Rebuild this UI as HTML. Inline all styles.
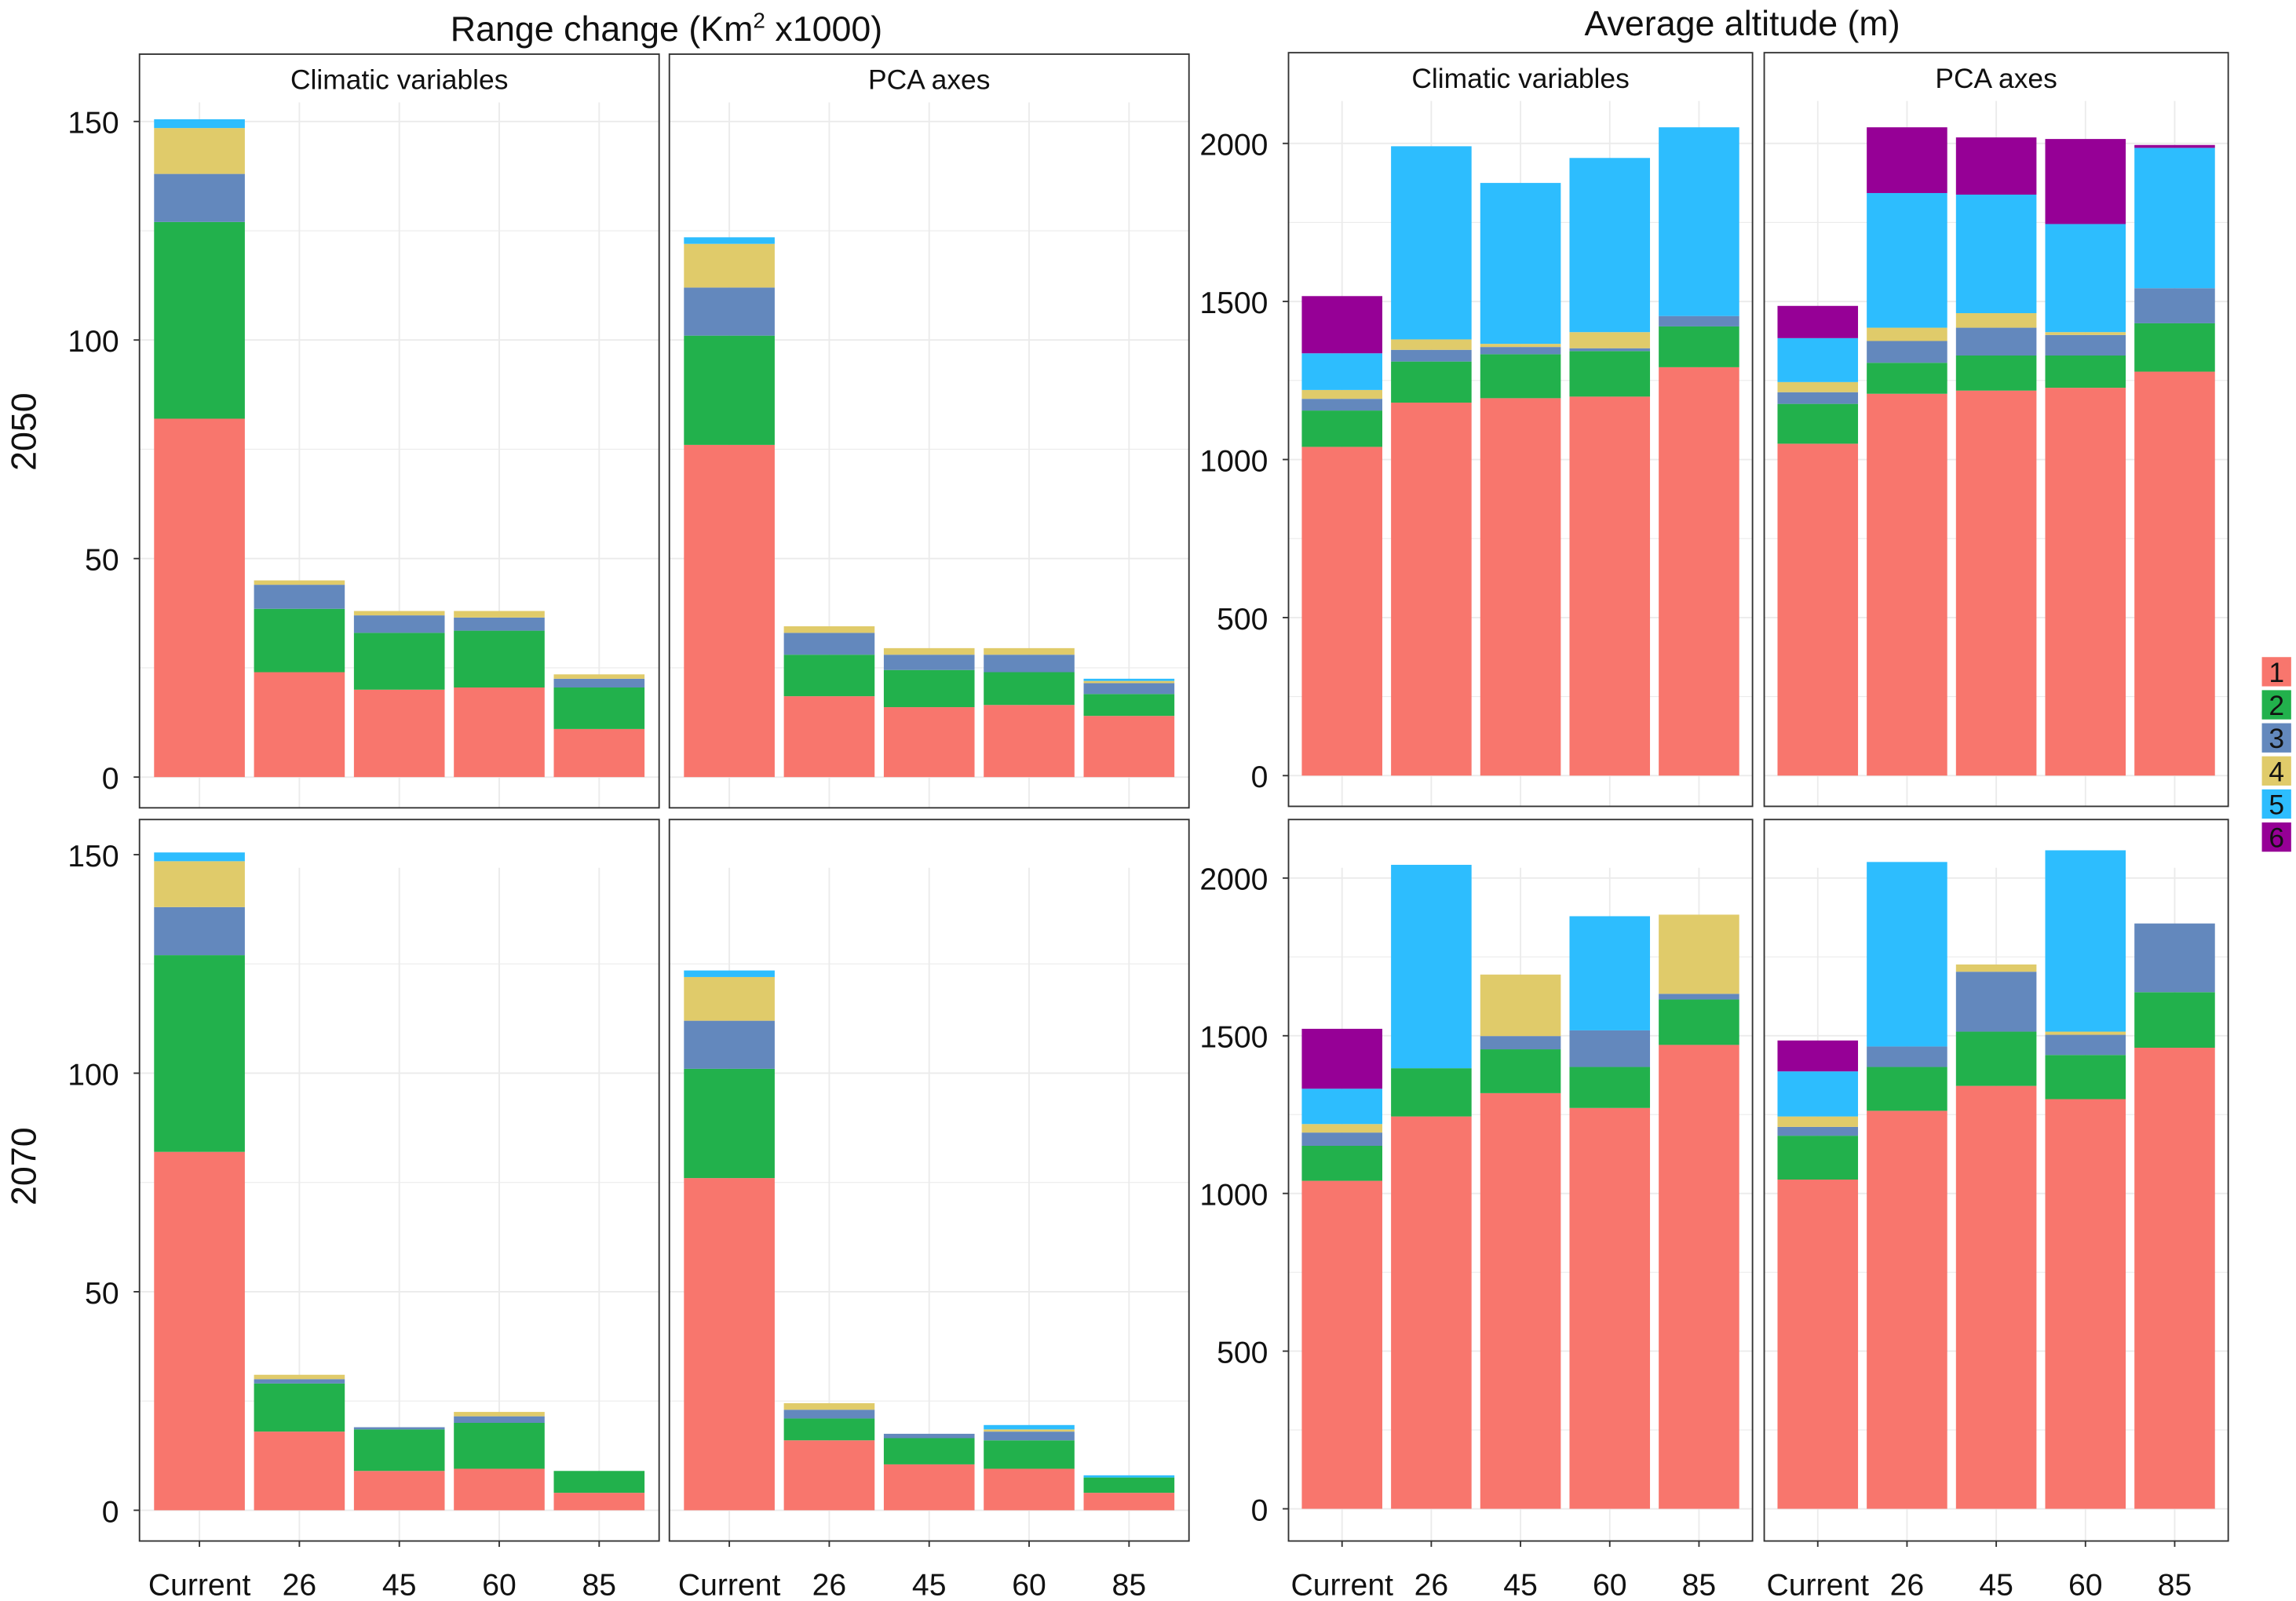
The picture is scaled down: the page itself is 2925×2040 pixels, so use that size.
<!DOCTYPE html>
<html><head><meta charset="utf-8"><style>html,body{margin:0;padding:0;background:#fff}svg{display:block}text{font-family:"Liberation Sans",Arial,sans-serif}</style></head>
<body>
<svg id="chart" width="2925" height="2040" viewBox="0 0 1568 1094" xmlns="http://www.w3.org/2000/svg"></svg>
<script>
const categories=["Current","26","45","60","85"];
const colors=["#F8766D","#22B14C","#6388BD","#E0CB6A","#2DBDFE","#960096"];
const legendLabels=["1","2","3","4","5","6"];
const rangeTicks=[0,50,100,150];
const altTicks=[0,500,1000,1500,2000];
// stacked component values per category (classes 1..6)
const range2050Clim=[[82,45,11,10.5,2,0],[24,14.5,5.5,1,0,0],[20,13,4,1,0,0],[20.5,13,3,1.5,0,0],[11,9.5,2,1,0,0]];
const range2050Pca=[[76,25,11,10,1.5,0],[18.5,9.5,5,1.5,0,0],[16,8.5,3.5,1.5,0,0],[16.5,7.5,4,1.5,0,0],[14,5,2.5,0.5,0.5,0]];
const range2070Clim=[[82,45,11,10.5,2,0],[18,11,1,1,0,0],[9,9.5,0.5,0,0,0],[9.5,10.5,1.5,1,0,0],[4,5,0,0,0,0]];
const range2070Pca=[[76,25,11,10,1.5,0],[16,5,2,1.5,0,0],[10.5,6,1,0,0,0],[9.5,6.5,2,0.5,1,0],[4,3.5,0,0,0.5,0]];
const alt2050Clim=[[1040,115,37,28,116,181],[1180,130,37,33,611,0],[1194,139,23,10,509,0],[1199,144,9,51,551,0],[1292,129,33,0,597,0]];
const alt2050Pca=[[1050,126,37,32,139,102],[1208,98,69,42,426,208],[1218,111,88,46,375,181],[1227,102,65,9,342,269],[1278,153,111,0,444,9]];
const alt2070Clim=[[1040,111,42,27,112,190],[1244,153,0,0,645,0],[1318,139,42,195,0,0],[1271,130,116,0,362,0],[1471,144,18,251,0,0]];
const alt2070Pca=[[1044,139,28,33,143,98],[1262,139,65,0,585,0],[1341,172,190,23,0,0],[1299,140,64,10,575,0],[1462,176,218,0,0,0]];

const NS="http://www.w3.org/2000/svg";
const svg=document.getElementById('chart');
function mk(tag,attrs,parent){const e=document.createElementNS(NS,tag);for(const k in attrs)e.setAttribute(k,attrs[k]);(parent||svg).appendChild(e);return e;}
function txt(s,attrs,parent){const e=mk('text',attrs,parent);e.textContent=s;return e;}

function panel(name,x0,x1,top,bottom,y0px,ymax,ymaxPx,ticks,data,strip,showY,showX,barW){
  const g=mk('g',{},svg);
  
  
  const ys=v=>y0px-(v/ymax)*(y0px-ymaxPx);
  const n=categories.length;
  const plotTop=top+33;
  const step=(x1-x0)/(n+0.2);
  const xs=i=>x0+step*(0.6+i);
  // grid
  const minor=ticks[1]-ticks[0];
  for(let v=minor/2;ys(v)>plotTop;v+=minor/2){
    const l=mk('line',{x1:x0,x2:x1,y1:ys(v),y2:ys(v),stroke:'#ebebeb','stroke-width':(Math.round(v/minor*2)%2==0)?1:0.6},g);
    
  }
  const l0=mk('line',{x1:x0,x2:x1,y1:ys(0),y2:ys(0),stroke:'#ebebeb','stroke-width':1},g);
  for(let i=0;i<n;i++){mk('line',{x1:xs(i),x2:xs(i),y1:plotTop,y2:bottom,stroke:'#ebebeb','stroke-width':1},g);}
  // bars
  data.forEach((row,i)=>{
    let c=0;
    row.forEach((v,k)=>{
      if(v<=0)return;
      const r=mk('rect',{x:xs(i)-barW/2,width:barW,y:ys(c+v),height:ys(c)-ys(c+v),fill:colors[k]},g);
      
      
      c+=v;
    });
  });
  // border
  mk('rect',{x:x0,y:top,width:x1-x0,height:bottom-top,fill:'none',stroke:'#333','stroke-width':1},g);
  const st=txt(strip,{x:(x0+x1)/2,y:top+24,'text-anchor':'middle','font-size':19,fill:'#111'},g);
  
  if(showY){
    ticks.forEach(t=>{
      const tl=txt(String(t),{x:x0-14,y:ys(t)+8,'text-anchor':'end','font-size':21,fill:'#111'},g);
      
      mk('line',{x1:x0-4,x2:x0,y1:ys(t),y2:ys(t),stroke:'#333'},g);
    });
  }
  if(showX){
    categories.forEach((c,i)=>{
      mk('line',{x1:xs(i),x2:xs(i),y1:bottom,y2:bottom+4,stroke:'#333'},g);
      const tl=txt(c,{x:xs(i),y:bottom+37,'text-anchor':'middle','font-size':21,fill:'#111'},g);
      
    });
  }
}
panel('range-2050-climatic',95,450,37,552,531,150,83,rangeTicks,range2050Clim,'Climatic variables',true,false,62);
panel('range-2050-pca',457,812,37,552,531,150,83,rangeTicks,range2050Pca,'PCA axes',false,false,62);
panel('range-2070-climatic',95,450,560,1053,1032,150,584,rangeTicks,range2070Clim,'',true,true,62);
panel('range-2070-pca',457,812,560,1053,1032,150,584,rangeTicks,range2070Pca,'',false,true,62);
panel('altitude-2050-climatic',880,1197,36,551,530,2000,98,altTicks,alt2050Clim,'Climatic variables',true,false,55);
panel('altitude-2050-pca',1205,1522,36,551,530,2000,98,altTicks,alt2050Pca,'PCA axes',false,false,55);
panel('altitude-2070-climatic',880,1197,560,1053,1031,2000,600,altTicks,alt2070Clim,'',true,true,55);
panel('altitude-2070-pca',1205,1522,560,1053,1031,2000,600,altTicks,alt2070Pca,'',false,true,55);

let t=mk('text',{x:455,y:28,'text-anchor':'middle','font-size':24,fill:'#111'});
t.innerHTML='Range change (Km<tspan dy="-9" font-size="15">2</tspan><tspan dy="9"> x1000)</tspan>';

t=txt('Average altitude (m)',{x:1190,y:24,'text-anchor':'middle','font-size':24,fill:'#111'});

t=txt('2050',{x:0,y:0,'text-anchor':'middle','font-size':24,fill:'#111',transform:'translate(24,295) rotate(-90)'});

t=txt('2070',{x:0,y:0,'text-anchor':'middle','font-size':24,fill:'#111',transform:'translate(24,797) rotate(-90)'});

legendLabels.forEach((lab,i)=>{
  const g=mk('g',{});
  
  
  mk('rect',{x:1545,y:449+i*22.6,width:20,height:20,fill:colors[i]},g);
  txt(lab,{x:1555,y:466+i*22.6,'text-anchor':'middle','font-size':19,fill:'#111'},g);
});
</script>
</body></html>
